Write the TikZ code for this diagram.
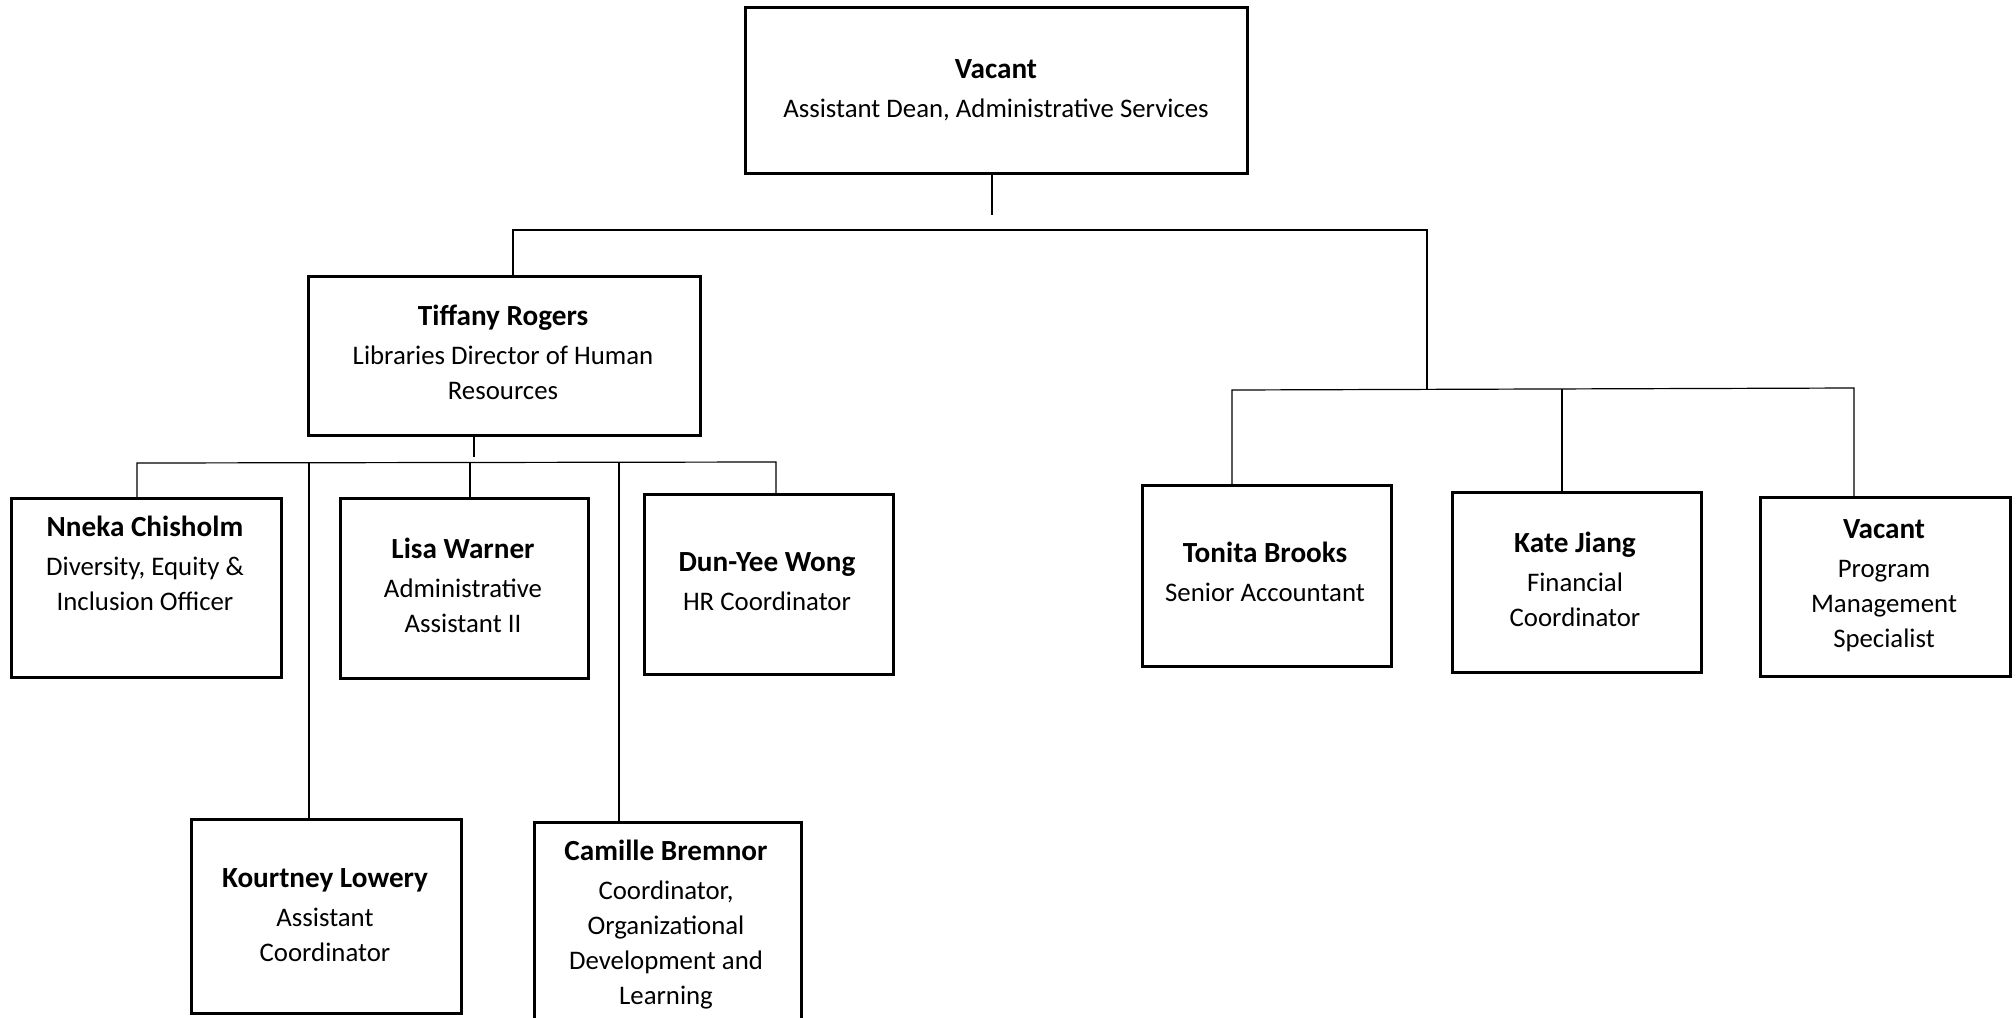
\documentclass[tikz,border=0pt]{standalone}
\usepackage{fontspec}
\setmainfont{Carlito}
\newcommand{\who}[1]{{\fontsize{14.6}{17.5}\selectfont\bfseries #1}}
\tikzset{
  person/.style={draw, line width=1.5pt, inner sep=0pt, anchor=north west},
  role/.style={anchor=north, align=center, inner sep=0pt,
               font=\fontsize{13.4}{17.5}\selectfont},
  link/.style={line width=0.6pt}
}

\begin{document}
\begin{tikzpicture}[x=0.5pt,y=-0.5pt]
  \useasboundingbox (0,0) rectangle (2016,1017);
  % boxes
  \node[person, minimum width=251pt, minimum height=83pt] (dean) at (744,6) {};
  \node[person, minimum width=196pt, minimum height=79.5pt] (hr) at (307,275) {};
  \node[person, minimum width=135pt, minimum height=89.5pt] (dei) at (10,497) {};
  \node[person, minimum width=124pt, minimum height=90pt] (admin) at (339,497) {};
  \node[person, minimum width=124.5pt, minimum height=90pt] (hrc) at (643,493) {};
  \node[person, minimum width=135pt, minimum height=97pt] (akc) at (190,818) {};
  \node[person, minimum width=133.5pt, minimum height=104.5pt] (odl) at (533,821) {};
  \node[person, minimum width=124.5pt, minimum height=90.5pt] (acct) at (1141,484) {};
  \node[person, minimum width=124.5pt, minimum height=90pt] (fin) at (1451,491) {};
  \node[person, minimum width=125pt, minimum height=89.5pt] (pms) at (1759,496) {};
  % texts
  \node[role] (dean-t) at (996,59) {\who{Vacant}\\[2pt]Assistant Dean, Administrative Services};
  \node[role] (hr-t) at (503,305) {\who{Tiffany Rogers}\\[2pt]Libraries Director of Human\\Resources};
  \node[role] (dei-t) at (145,516) {\who{Nneka Chisholm}\\[2pt]Diversity, Equity \&\\Inclusion Officer};
  \node[role] (admin-t) at (463,538) {\who{Lisa Warner}\\[2pt]Administrative\\Assistant II};
  \node[role] (hrc-t) at (767,552) {\who{Dun-Yee Wong}\\[2pt]HR Coordinator};
  \node[role] (akc-t) at (325,868) {\who{Kourtney Lowery}\\[2pt]Assistant\\Coordinator};
  \node[role] (odl-t) at (666,840) {\who{Camille Bremnor}\\[2pt]Coordinator,\\Organizational\\Development and\\Learning};
  \node[role] (acct-t) at (1265,542) {\who{Tonita Brooks}\\[2pt]Senior Accountant};
  \node[role] (fin-t) at (1575,532) {\who{Kate Jiang}\\[2pt]Financial\\Coordinator};
  \node[role] (pms-t) at (1884,519) {\who{Vacant}\\[2pt]Program\\Management\\Specialist};
  % top level
  \coordinate (dean-stub) at (992,215);
  \coordinate (top-l) at (513,230);
  \coordinate (top-r) at (1427,230);
  \coordinate (fin-j) at (1427,389);
  \draw[link] (dean.south -| dean-stub) -- (dean-stub);
  \draw[link] (hr.north -| top-l) -- (top-l) -- (top-r) -- (fin-j);
  % finance
  \coordinate (fin-l) at (1232,390);
  \coordinate (fin-m) at (1562,389);
  \coordinate (fin-r) at (1854,388);
  \draw[link] (acct.north -| fin-l) -- (fin-l) -- (fin-r) -- (pms.north -| fin-r);
  \draw[link] (fin-m) -- (fin.north -| fin-m);
  % human resources
  \coordinate (hr-stub) at (474,457);
  \coordinate (hr-l) at (137,463);
  \coordinate (hr-r) at (776,462);
  \coordinate (hr-a) at (309,462);
  \coordinate (hr-m) at (470,463);
  \coordinate (hr-b) at (619,463);
  \draw[link] (hr.south -| hr-stub) -- (hr-stub);
  \draw[link] (dei.north -| hr-l) -- (hr-l) -- (hr-r) -- (hrc.north -| hr-r);
  \draw[link] (hr-a) -- (akc.north -| hr-a);
  \draw[link] (hr-m) -- (admin.north -| hr-m);
  \draw[link] (hr-b) -- (odl.north -| hr-b);
\end{tikzpicture}
\end{document}
